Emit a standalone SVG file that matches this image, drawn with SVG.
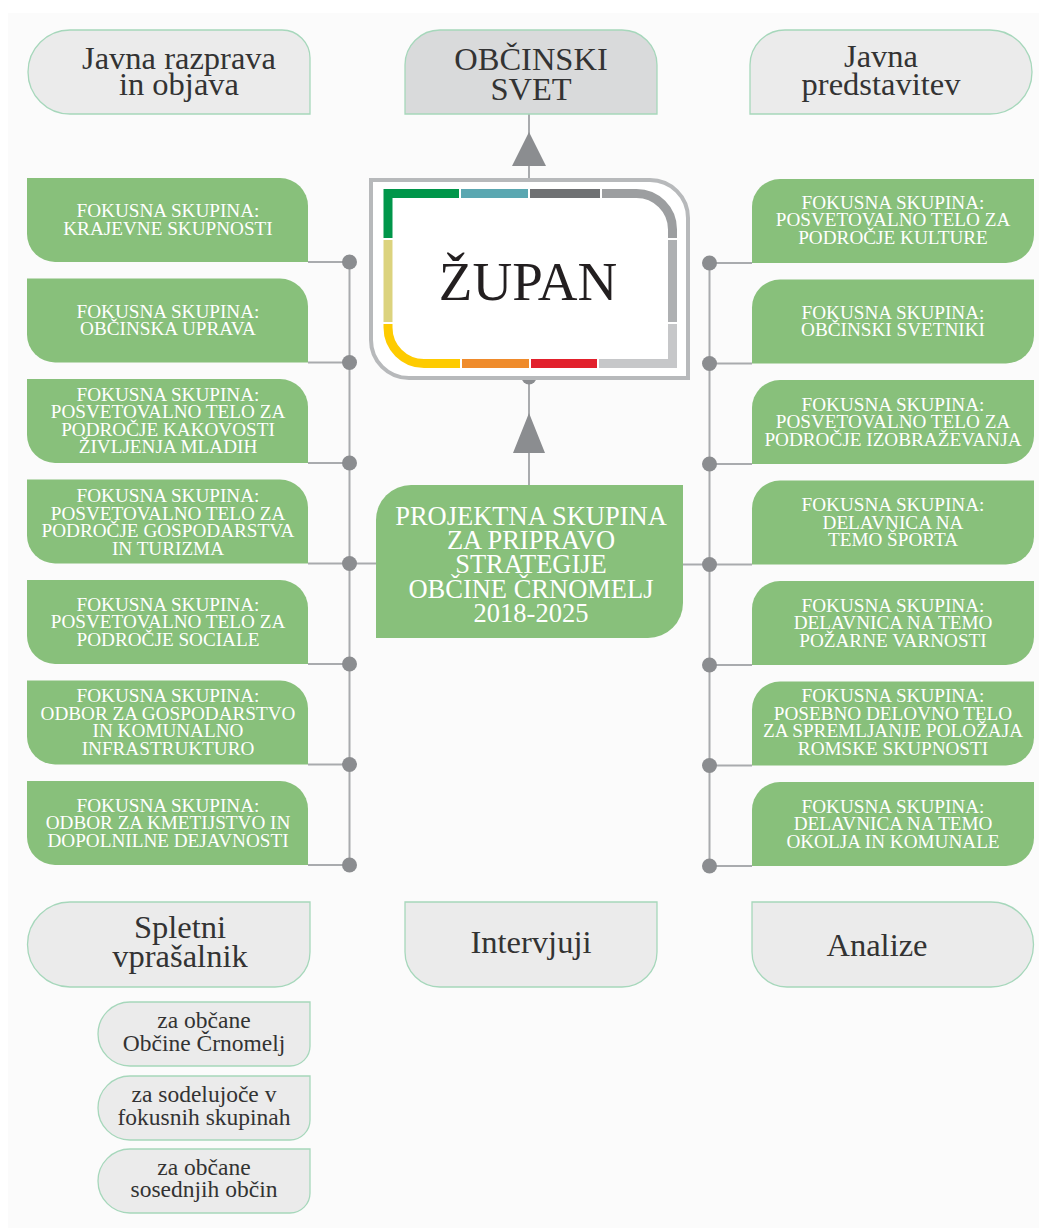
<svg xmlns="http://www.w3.org/2000/svg" xmlns:xlink="http://www.w3.org/1999/xlink" width="1039" height="1228" viewBox="0 0 1039 1228">
<style>
.grey{fill:#ebebeb;stroke:#a6d7bb;stroke-width:1.3}
.dark{fill:#d9dadb;stroke:#a6d7bb;stroke-width:1.3}
.green{fill:#88c07b}
.gt{font-family:"Liberation Serif","DejaVu Serif",serif;font-size:19.2px;fill:#ffffff;text-anchor:middle}
.pt{font-family:"Liberation Serif","DejaVu Serif",serif;font-size:26.5px;fill:#ffffff;text-anchor:middle}
.bt{font-family:"Liberation Serif","DejaVu Serif",serif;font-size:32.5px;fill:#333333;text-anchor:middle}
.st{font-family:"Liberation Serif","DejaVu Serif",serif;font-size:23.5px;fill:#333333;text-anchor:middle}
.ln{stroke:#a9abae;stroke-width:2;fill:none}
.dot{fill:#8b8d90}
.arr{fill:#8b8d90}
.seg{fill:none;stroke-width:9;stroke-linejoin:miter;stroke-linecap:butt}
</style>
<defs>
<path id="lbox" d="M27,0 H280 A28,28 0 0 1 308,28 V84 H55 A28,28 0 0 1 27,56 Z"/>
<path id="rbox" d="M780,0 H1034 V56 A28,28 0 0 1 1006,84 H752 V28 A28,28 0 0 1 780,0 Z"/>
</defs>
<rect x="0" y="0" width="1039" height="1228" fill="#ffffff"/>
<rect x="8" y="13" width="1031" height="1215" fill="#fbfbfb"/>

<g id="connectors">
<line class="ln" x1="529" y1="114" x2="529" y2="178"/>
<polygon class="arr" points="529,132 512,166 546,166"/>
<line class="ln" x1="529" y1="377" x2="529" y2="485"/>
<polygon class="arr" points="529,413 513,453 545,453"/>
<circle class="dot" cx="529" cy="377" r="7.5"/>
<line class="ln" x1="349.5" y1="262" x2="349.5" y2="865"/>
<line class="ln" x1="709.5" y1="263" x2="709.5" y2="866"/>
<line class="ln" x1="349.5" y1="563.5" x2="376" y2="563.5"/>
<line class="ln" x1="683" y1="564.5" x2="709.5" y2="564.5"/>
<path class="ln" d="M308,262 H349.5 M308,362.5 H349.5 M308,463 H349.5 M308,563.5 H349.5 M308,664 H349.5 M308,764.5 H349.5 M308,865 H349.5"/>
<path class="ln" d="M709.5,263 H752 M709.5,363.5 H752 M709.5,464 H752 M709.5,564.5 H752 M709.5,665 H752 M709.5,765.5 H752 M709.5,866 H752"/>
<circle class="dot" cx="349.5" cy="262" r="7.5"/>
<circle class="dot" cx="349.5" cy="362.5" r="7.5"/>
<circle class="dot" cx="349.5" cy="463" r="7.5"/>
<circle class="dot" cx="349.5" cy="563.5" r="7.5"/>
<circle class="dot" cx="349.5" cy="664" r="7.5"/>
<circle class="dot" cx="349.5" cy="764.5" r="7.5"/>
<circle class="dot" cx="349.5" cy="865" r="7.5"/>
<circle class="dot" cx="709.5" cy="263" r="7.5"/>
<circle class="dot" cx="709.5" cy="363.5" r="7.5"/>
<circle class="dot" cx="709.5" cy="464" r="7.5"/>
<circle class="dot" cx="709.5" cy="564.5" r="7.5"/>
<circle class="dot" cx="709.5" cy="665" r="7.5"/>
<circle class="dot" cx="709.5" cy="765.5" r="7.5"/>
<circle class="dot" cx="709.5" cy="866" r="7.5"/>
</g>

<g id="javna-razprava">
<path class="grey" d="M70,30 H282 A28,28 0 0 1 310,58 V114 H70 A42,42 0 0 1 70,30 Z"/>
<text class="bt"><tspan x="179" y="68.5">Javna razprava</tspan><tspan x="179" y="95">in objava</tspan></text>
</g>
<g id="obcinski-svet">
<path class="dark" d="M440,30 H622 A35,35 0 0 1 657,65 V114 H405 V65 A35,35 0 0 1 440,30 Z"/>
<text class="bt"><tspan x="531" y="70">OBČINSKI</tspan><tspan x="531" y="99.5">SVET</tspan></text>
</g>
<g id="javna-predstavitev">
<path class="grey" d="M785,30 H990 A42,42 0 0 1 990,114 H750 V65 A35,35 0 0 1 785,30 Z"/>
<text class="bt"><tspan x="881" y="67">Javna</tspan><tspan x="881" y="95">predstavitev</tspan></text>
</g>

<g id="zupan">
<path d="M371,180 H650 A38,38 0 0 1 688,218 V378 H409 A38,38 0 0 1 371,340 Z" fill="#ffffff" stroke="#b7b9bb" stroke-width="4"/>
<path class="seg" stroke="#00964a" d="M388,238 V193.5 H459"/>
<path class="seg" stroke="#5aa7b1" d="M461,193.5 H528"/>
<path class="seg" stroke="#6f7173" d="M530,193.5 H600"/>
<path class="seg" stroke="#9c9ea0" d="M602,193.5 H636.5 A36,36 0 0 1 672.5,229.5 V238"/>
<path class="seg" stroke="#aeb0b2" d="M672.5,240 V322"/>
<path class="seg" stroke="#c6c7c9" d="M672.5,324 V363.5 H599"/>
<path class="seg" stroke="#e2202c" d="M597,363.5 H531"/>
<path class="seg" stroke="#ef8b2b" d="M529,363.5 H462"/>
<path class="seg" stroke="#fecb00" d="M460,363.5 H424 A36,36 0 0 1 388,327.5 V324"/>
<path class="seg" stroke="#dcd37e" d="M388,322 V240"/>
<text x="528" y="300" font-family="'Liberation Serif','DejaVu Serif',serif" font-size="55" fill="#231f20" text-anchor="middle">ŽUPAN</text>
</g>

<g id="projektna-skupina">
<path class="green" d="M411,485 H683 V603 A35,35 0 0 1 648,638 H376 V520 A35,35 0 0 1 411,485 Z"/>
<text class="pt"><tspan x="531" y="525">PROJEKTNA SKUPINA</tspan><tspan x="531" y="549">ZA PRIPRAVO</tspan><tspan x="531" y="573">STRATEGIJE</tspan><tspan x="531" y="597.5">OBČINE ČRNOMELJ</tspan><tspan x="531" y="622">2018-2025</tspan></text>
</g>

<g id="l1"><use xlink:href="#lbox" href="#lbox" class="green" y="178"/>
<text class="gt"><tspan x="168" y="217.3">FOKUSNA SKUPINA:</tspan><tspan x="168" y="234.8">KRAJEVNE SKUPNOSTI</tspan></text></g>
<g id="l2"><use xlink:href="#lbox" href="#lbox" class="green" y="278.5"/>
<text class="gt"><tspan x="168" y="317.8">FOKUSNA SKUPINA:</tspan><tspan x="168" y="335.3">OBČINSKA UPRAVA</tspan></text></g>
<g id="l3"><use xlink:href="#lbox" href="#lbox" class="green" y="379"/>
<text class="gt"><tspan x="168" y="400.8">FOKUSNA SKUPINA:</tspan><tspan x="168" y="418.3">POSVETOVALNO TELO ZA</tspan><tspan x="168" y="435.8">PODROČJE KAKOVOSTI</tspan><tspan x="168" y="453.3">ŽIVLJENJA MLADIH</tspan></text></g>
<g id="l4"><use xlink:href="#lbox" href="#lbox" class="green" y="479.5"/>
<text class="gt"><tspan x="168" y="502">FOKUSNA SKUPINA:</tspan><tspan x="168" y="519.5">POSVETOVALNO TELO ZA</tspan><tspan x="168" y="537">PODROČJE GOSPODARSTVA</tspan><tspan x="168" y="554.5">IN TURIZMA</tspan></text></g>
<g id="l5"><use xlink:href="#lbox" href="#lbox" class="green" y="580"/>
<text class="gt"><tspan x="168" y="610.5">FOKUSNA SKUPINA:</tspan><tspan x="168" y="628">POSVETOVALNO TELO ZA</tspan><tspan x="168" y="645.5">PODROČJE SOCIALE</tspan></text></g>
<g id="l6"><use xlink:href="#lbox" href="#lbox" class="green" y="680.5"/>
<text class="gt"><tspan x="168" y="702.3">FOKUSNA SKUPINA:</tspan><tspan x="168" y="719.8">ODBOR ZA GOSPODARSTVO</tspan><tspan x="168" y="737.3">IN KOMUNALNO</tspan><tspan x="168" y="754.8">INFRASTRUKTURO</tspan></text></g>
<g id="l7"><use xlink:href="#lbox" href="#lbox" class="green" y="781"/>
<text class="gt"><tspan x="168" y="811.5">FOKUSNA SKUPINA:</tspan><tspan x="168" y="829">ODBOR ZA KMETIJSTVO IN</tspan><tspan x="168" y="846.5">DOPOLNILNE DEJAVNOSTI</tspan></text></g>

<g id="r1"><use xlink:href="#rbox" href="#rbox" class="green" y="179"/>
<text class="gt"><tspan x="893" y="208.5">FOKUSNA SKUPINA:</tspan><tspan x="893" y="226">POSVETOVALNO TELO ZA</tspan><tspan x="893" y="243.5">PODROČJE KULTURE</tspan></text></g>
<g id="r2"><use xlink:href="#rbox" href="#rbox" class="green" y="279.5"/>
<text class="gt"><tspan x="893" y="318.8">FOKUSNA SKUPINA:</tspan><tspan x="893" y="336.3">OBČINSKI SVETNIKI</tspan></text></g>
<g id="r3"><use xlink:href="#rbox" href="#rbox" class="green" y="380"/>
<text class="gt"><tspan x="893" y="410.5">FOKUSNA SKUPINA:</tspan><tspan x="893" y="428">POSVETOVALNO TELO ZA</tspan><tspan x="893" y="445.5">PODROČJE IZOBRAŽEVANJA</tspan></text></g>
<g id="r4"><use xlink:href="#rbox" href="#rbox" class="green" y="480.5"/>
<text class="gt"><tspan x="893" y="511">FOKUSNA SKUPINA:</tspan><tspan x="893" y="528.5">DELAVNICA NA</tspan><tspan x="893" y="546">TEMO ŠPORTA</tspan></text></g>
<g id="r5"><use xlink:href="#rbox" href="#rbox" class="green" y="581"/>
<text class="gt"><tspan x="893" y="611.5">FOKUSNA SKUPINA:</tspan><tspan x="893" y="629">DELAVNICA NA TEMO</tspan><tspan x="893" y="646.5">POŽARNE VARNOSTI</tspan></text></g>
<g id="r6"><use xlink:href="#rbox" href="#rbox" class="green" y="681.5"/>
<text class="gt"><tspan x="893" y="702">FOKUSNA SKUPINA:</tspan><tspan x="893" y="719.5">POSEBNO DELOVNO TELO</tspan><tspan x="893" y="737">ZA SPREMLJANJE POLOŽAJA</tspan><tspan x="893" y="754.5">ROMSKE SKUPNOSTI</tspan></text></g>
<g id="r7"><use xlink:href="#rbox" href="#rbox" class="green" y="782"/>
<text class="gt"><tspan x="893" y="812.5">FOKUSNA SKUPINA:</tspan><tspan x="893" y="830">DELAVNICA NA TEMO</tspan><tspan x="893" y="847.5">OKOLJA IN KOMUNALE</tspan></text></g>

<g id="spletni-vprasalnik">
<path class="grey" d="M70,902 H310 V952 A35,35 0 0 1 275,987 H70 A42.5,42.5 0 0 1 70,902 Z"/>
<text class="bt"><tspan x="180" y="938">Spletni</tspan><tspan x="180" y="967">vprašalnik</tspan></text>
</g>
<g id="intervjuji">
<path class="grey" d="M405,902 H657 V952 A35,35 0 0 1 622,987 H440 A35,35 0 0 1 405,952 Z"/>
<text class="bt" x="531" y="953">Intervjuji</text>
</g>
<g id="analize">
<path class="grey" d="M752,902 H991 A42.5,42.5 0 0 1 991,987 H787 A35,35 0 0 1 752,952 Z"/>
<text class="bt" x="877" y="956">Analize</text>
</g>
<g id="za-obcane">
<path class="grey" d="M130,1002 H310 V1046 A20,20 0 0 1 290,1066 H130 A32,32 0 0 1 130,1002 Z"/>
<text class="st"><tspan x="204" y="1028.3">za občane</tspan><tspan x="204" y="1050.7">Občine Črnomelj</tspan></text>
</g>
<g id="za-sodelujoce">
<path class="grey" d="M130,1076 H310 V1120 A20,20 0 0 1 290,1140 H130 A32,32 0 0 1 130,1076 Z"/>
<text class="st"><tspan x="204" y="1101.7">za sodelujoče v</tspan><tspan x="204" y="1125">fokusnih skupinah</tspan></text>
</g>
<g id="za-sosednje">
<path class="grey" d="M130,1149 H310 V1193 A20,20 0 0 1 290,1213 H130 A32,32 0 0 1 130,1149 Z"/>
<text class="st"><tspan x="204" y="1175">za občane</tspan><tspan x="204" y="1197">sosednjih občin</tspan></text>
</g>
</svg>
